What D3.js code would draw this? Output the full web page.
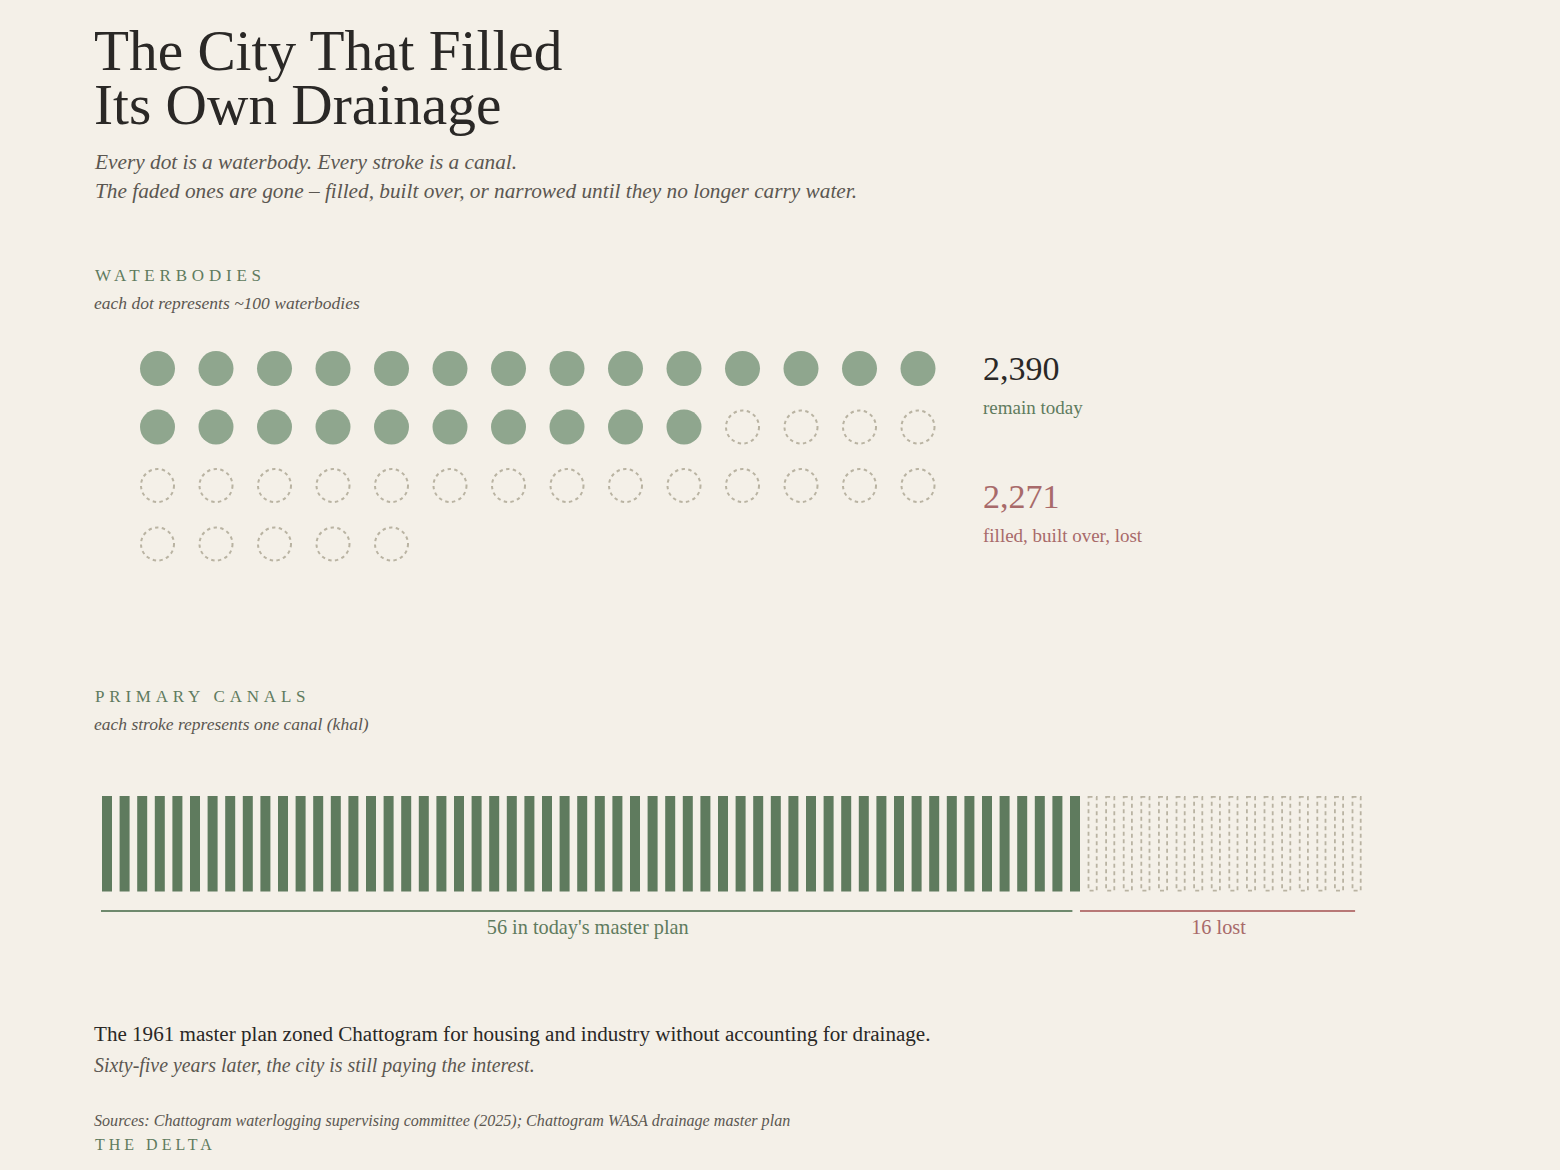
<!DOCTYPE html>
<html>
<head>
<meta charset="utf-8">
<script src="https://cdn.jsdelivr.net/npm/d3@7"></script>
<style>
  html, body { margin: 0; padding: 0; background: #f4f0e8; }
  svg { display: block; }
  text { font-family: "Liberation Serif", "DejaVu Serif", serif; }
</style>
</head>
<body>
<div class="chart"></div>
<script>
// waterbodies, one dot for ~100
const waterGroups = ["remain today", "filled, built over, lost"];
const waterCounts = [2390, 2271];
const dotUnit = 100;
const dotsPerRow = 14;

// primary canals, one stroke each
const canalGroups = ["in today's master plan", "lost"];
const canalCounts = [56, 16];

const width = 1560;
const height = 1170;

const green = "#5f7b5e";
const dotGreen = "#8fa68e";
const faded = "#b9b3a2";
const red = "#a86a6a";
const dark = "#2a2826";
const grey = "#5b5751";

const svg = d3.select(".chart")
  .append("svg")
  .attr("width", width)
  .attr("height", height)
  .attr("viewBox", [0, 0, width, height]);

svg.append("rect").attr("width", width).attr("height", height).attr("fill", "#f4f0e8");

// title + intro
const title = svg.append("text")
  .attr("x", 94)
  .attr("fill", dark)
  .attr("font-size", 57.3);
title.append("tspan").attr("x", 94).attr("y", 70).text("The City That Filled");
title.append("tspan").attr("x", 94).attr("y", 124).text("Its Own Drainage");

const intro = svg.append("text")
  .attr("fill", grey)
  .attr("font-size", 21.3)
  .attr("font-style", "italic");
intro.append("tspan").attr("x", 95).attr("y", 169).text("Every dot is a waterbody. Every stroke is a canal.");
intro.append("tspan").attr("x", 95).attr("y", 198).text("The faded ones are gone \u2013 filled, built over, or narrowed until they no longer carry water.");

function sectionHead(label, note, y) {
  svg.append("text")
    .attr("x", 95).attr("y", y)
    .attr("fill", green)
    .attr("font-size", 17)
    .attr("letter-spacing", 4.8)
    .text(label);
  svg.append("text")
    .attr("x", 94).attr("y", y + 28)
    .attr("fill", grey)
    .attr("font-size", 17.5)
    .attr("font-style", "italic")
    .text(note);
}

// ---- waterbodies dot grid ----
sectionHead("WATERBODIES", "each dot represents ~100 waterbodies", 281);

const nRemain = Math.round(waterCounts[0] / dotUnit);
const nLost = Math.round(waterCounts[1] / dotUnit);
const dots = d3.range(nRemain + nLost).map(i => ({i, lost: i >= nRemain}));
const nRows = Math.ceil(dots.length / dotsPerRow);

const dx = d3.scalePoint().domain(d3.range(dotsPerRow)).range([157.5, 918]);
const dy = d3.scalePoint().domain(d3.range(nRows)).range([368.5, 544]);
const r = 17.5;

svg.append("g")
  .selectAll("circle")
  .data(dots)
  .join("circle")
  .attr("cx", d => dx(d.i % dotsPerRow))
  .attr("cy", d => dy(Math.floor(d.i / dotsPerRow)))
  .attr("r", d => d.lost ? r - 1 : r)
  .attr("fill", d => d.lost ? "none" : dotGreen)
  .attr("stroke", d => d.lost ? faded : "none")
  .attr("stroke-width", 2)
  .attr("stroke-dasharray", "3.4 3.4");

// totals beside the grid
const fmt = d3.format(",");
const totals = [
  {value: waterCounts[0], label: waterGroups[0], numColor: dark, labColor: green, y: 380},
  {value: waterCounts[1], label: waterGroups[1], numColor: red, labColor: red, y: 508}
];
totals.forEach(t => {
  svg.append("text")
    .attr("x", 983).attr("y", t.y)
    .attr("fill", t.numColor)
    .attr("font-size", 34)
    .text(fmt(t.value));
  svg.append("text")
    .attr("x", 983).attr("y", t.y + 34)
    .attr("fill", t.labColor)
    .attr("font-size", 19)
    .text(t.label);
});

// ---- canal strokes ----
sectionHead("PRIMARY CANALS", "each stroke represents one canal (khal)", 702);

const nCanals = d3.sum(canalCounts);
const canals = d3.range(nCanals).map(i => ({i, lost: i >= canalCounts[0]}));

const cx = d3.scaleBand()
  .domain(d3.range(nCanals))
  .range([102, 1361.6])
  .paddingInner(0.432)
  .paddingOuter(0);
const barTop = 796, barBottom = 891.5;
const bw = cx.bandwidth();
const gap = cx.step() - bw;

svg.append("g")
  .selectAll("rect")
  .data(canals)
  .join("rect")
  .attr("x", d => d.lost ? cx(d.i) + 0.9 : cx(d.i))
  .attr("y", d => d.lost ? barTop + 0.9 : barTop)
  .attr("width", d => d.lost ? bw - 1.8 : bw)
  .attr("height", d => d.lost ? barBottom - barTop - 1.8 : barBottom - barTop)
  .attr("fill", d => d.lost ? "none" : green)
  .attr("stroke", d => d.lost ? faded : "none")
  .attr("stroke-width", 1.8)
  .attr("stroke-dasharray", "4 3.5");

// brackets under each group
const brackets = [
  {x0: cx(0) - 1, x1: cx(canalCounts[0]) - 2 * gap, color: "#6e896d", text: canalCounts[0] + " " + canalGroups[0], tColor: green},
  {x0: cx(canalCounts[0]) - gap, x1: cx(nCanals - 1) + bw - 6.5, color: "#b87876", text: canalCounts[1] + " " + canalGroups[1], tColor: red}
];
brackets.forEach(b => {
  svg.append("line")
    .attr("x1", b.x0).attr("x2", b.x1)
    .attr("y1", 911).attr("y2", 911)
    .attr("stroke", b.color)
    .attr("stroke-width", 2);
  svg.append("text")
    .attr("x", (b.x0 + b.x1) / 2 + 1).attr("y", 934)
    .attr("text-anchor", "middle")
    .attr("fill", b.tColor)
    .attr("font-size", 20.3)
    .text(b.text);
});

// ---- closing lines ----
svg.append("text")
  .attr("x", 94).attr("y", 1041)
  .attr("fill", dark)
  .attr("font-size", 21.1)
  .text("The 1961 master plan zoned Chattogram for housing and industry without accounting for drainage.");
svg.append("text")
  .attr("x", 94).attr("y", 1072)
  .attr("fill", grey)
  .attr("font-size", 19.9)
  .attr("font-style", "italic")
  .text("Sixty-five years later, the city is still paying the interest.");
svg.append("text")
  .attr("x", 94).attr("y", 1126)
  .attr("fill", grey)
  .attr("font-size", 16.1)
  .attr("font-style", "italic")
  .text("Sources: Chattogram waterlogging supervising committee (2025); Chattogram WASA drainage master plan");
svg.append("text")
  .attr("x", 95).attr("y", 1150)
  .attr("fill", green)
  .attr("font-size", 16)
  .attr("letter-spacing", 4)
  .text("THE DELTA");

svg.node();
</script>
</body>
</html>
